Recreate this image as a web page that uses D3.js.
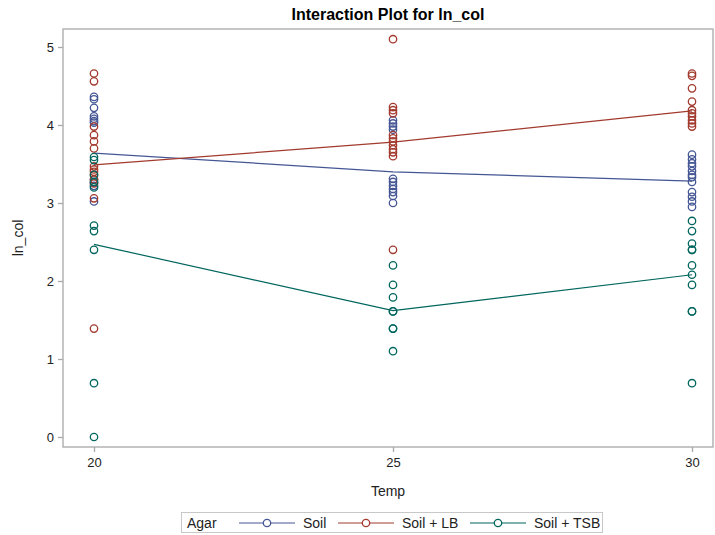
<!DOCTYPE html>
<html><head><meta charset="utf-8">
<script src="https://cdn.jsdelivr.net/npm/d3@7"></script>
<style>
html,body{margin:0;padding:0;background:#fff;}
text{font-family:"Liberation Sans",Arial,sans-serif;}
</style></head>
<body><svg id="chart" width="715" height="535"></svg>
<script>
// ---- data ----
const temps = [20, 25, 30];
const groups = ["Soil", "Soil + LB", "Soil + TSB"];
const colors = ["#445694", "#A23A2E", "#01665E"];
const yTicks = [0, 1, 2, 3, 4, 5];

const soil20 = [4.36, 4.33, 4.22, 4.11, 4.08, 4.05, 4.03, 3.30, 3.26, 3.22, 3.02];
const soil25 = [4.06, 4.02, 3.98, 3.94, 3.31, 3.27, 3.22, 3.18, 3.14, 3.09, 3.00];
const soil30 = [3.62, 3.56, 3.51, 3.47, 3.41, 3.36, 3.33, 3.27, 3.14, 3.08, 3.02, 2.95];

const lb20 = [4.66, 4.56, 3.98, 3.87, 3.79, 3.70, 3.47, 3.43, 3.40, 3.36, 3.30, 3.25, 3.06, 1.39];
const lb25 = [5.10, 4.23, 4.19, 4.15, 3.87, 3.83, 3.79, 3.74, 3.69, 3.65, 3.60, 2.40];
const lb30 = [4.66, 4.63, 4.47, 4.30, 4.19, 4.15, 4.11, 4.06, 4.02, 3.98];

const tsb20 = [3.59, 3.55, 3.36, 3.27, 3.20, 2.71, 2.64, 2.40, 0.69, 0.00];
const tsb25 = [2.20, 1.95, 1.79, 1.61, 1.61, 1.39, 1.39, 1.10];
const tsb30 = [2.77, 2.64, 2.48, 2.40, 2.40, 2.20, 2.08, 1.95, 1.61, 1.61, 0.69];

const soilMeans = [3.64, 3.40, 3.28];
const lbMeans = [3.49, 3.78, 4.18];
const tsbMeans = [2.47, 1.62, 2.08];

const pointSets = [[soil20, soil25, soil30], [lb20, lb25, lb30], [tsb20, tsb25, tsb30]];
const meanSets = [soilMeans, lbMeans, tsbMeans];

// ---- layout ----
const svg = d3.select("#chart");
const frame = {left: 63, top: 29, right: 713, bottom: 447};
const x = d3.scaleLinear().domain([20, 30]).range([94, 692]);
const y = d3.scaleLinear().domain([0, 5]).range([437, 47]);
const axisColor = "#a8a8a8";

// frame
svg.append("rect")
  .attr("x", frame.left).attr("y", frame.top)
  .attr("width", frame.right - frame.left).attr("height", frame.bottom - frame.top)
  .attr("fill", "none").attr("stroke", axisColor).attr("stroke-width", 1.3);

// axes
const yAxis = svg.append("g").attr("transform", `translate(${frame.left},0)`)
  .call(d3.axisLeft(y).tickValues(yTicks).tickSize(5).tickPadding(4).tickFormat(d3.format("d")));
const xAxis = svg.append("g").attr("transform", `translate(0,${frame.bottom})`)
  .call(d3.axisBottom(x).tickValues(temps).tickSize(5).tickPadding(6).tickFormat(d3.format("d")));
[yAxis, xAxis].forEach(g => {
  g.select(".domain").remove();
  g.selectAll("line").attr("stroke", axisColor).attr("stroke-width", 1.3);
  g.selectAll("text").attr("fill", "#222").style("font-size", "13px")
    .style("font-family", "'Liberation Sans', Arial, sans-serif");
});

// lines (means)
const line = d3.line().x((d, i) => x(temps[i])).y(d => y(d));
meanSets.forEach((m, gi) => {
  svg.append("path").datum(m).attr("d", line)
    .attr("fill", "none").attr("stroke", colors[gi]).attr("stroke-width", 1.2);
});

// points
pointSets.forEach((sets, gi) => {
  sets.forEach((vals, ti) => {
    svg.append("g").selectAll("circle").data(vals).join("circle")
      .attr("cx", x(temps[ti])).attr("cy", d => y(d)).attr("r", 3.7)
      .attr("fill", "none").attr("stroke", colors[gi]).attr("stroke-width", 1.3);
  });
});

// title & labels
svg.append("text").attr("x", 388).attr("y", 20).attr("text-anchor", "middle")
  .style("font-size", "16px").style("font-weight", "bold").attr("fill", "#000")
  .text("Interaction Plot for ln_col");
svg.append("text").attr("x", 388).attr("y", 496).attr("text-anchor", "middle")
  .style("font-size", "14px").attr("fill", "#222").text("Temp");
svg.append("text").attr("transform", "translate(23,238) rotate(-90)").attr("text-anchor", "middle")
  .style("font-size", "14px").attr("fill", "#222").text("ln_col");

// legend
const lg = svg.append("g");
lg.append("rect").attr("x", 181.5).attr("y", 512.5).attr("width", 421).attr("height", 20)
  .attr("fill", "none").attr("stroke", "#c8c8c8").attr("stroke-width", 1);
lg.append("text").attr("x", 187).attr("y", 527.5).style("font-size", "14px").attr("fill", "#222").text("Agar");
const legendX = [239, 338, 470];
groups.forEach((g, i) => {
  const lx = legendX[i];
  lg.append("line").attr("x1", lx).attr("x2", lx + 56).attr("y1", 523).attr("y2", 523)
    .attr("stroke", colors[i]).attr("stroke-width", 1.2);
  lg.append("circle").attr("cx", lx + 28).attr("cy", 523).attr("r", 3.7)
    .attr("fill", "#fff").attr("stroke", colors[i]).attr("stroke-width", 1.3);
  lg.append("text").attr("x", lx + 64).attr("y", 527.5).style("font-size", "14px").attr("fill", "#222").text(g);
});
</script></body></html>
